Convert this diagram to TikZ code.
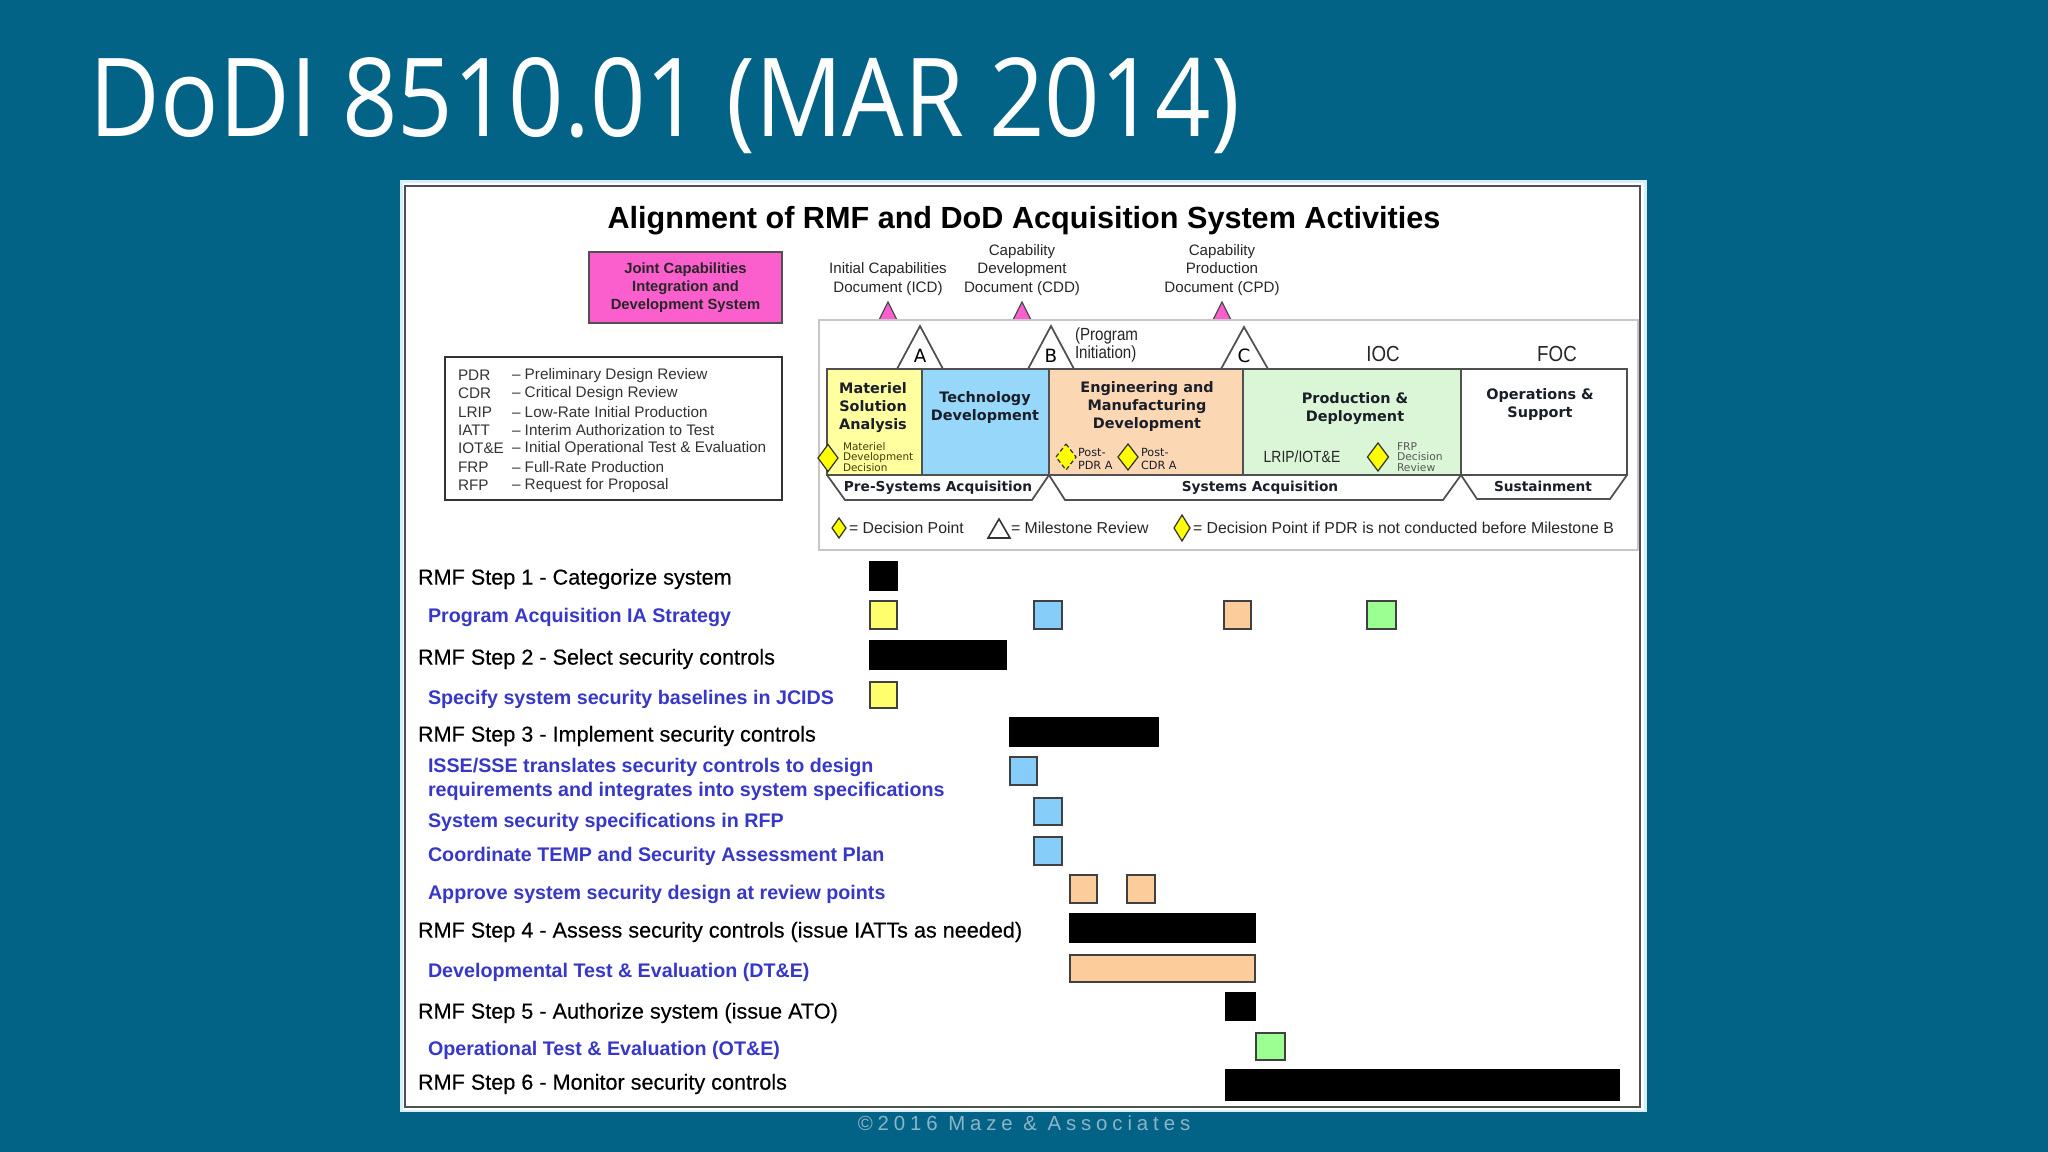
\documentclass[tikz,border=0pt]{standalone}
\usepackage{fontspec}
\setmainfont{Liberation Sans}
\newfontfamily\titlefont{Open Sans}
\newfontfamily\verd{DejaVu Sans}
\newfontfamily\narrowf[FakeStretch=0.86]{Liberation Sans}
\newfontfamily\medf[FakeBold=0.3]{Liberation Sans}
\newfontfamily\spacedf[LetterSpace=24]{Liberation Sans}
\definecolor{bg}{RGB}{3,99,134}
\definecolor{paneledge}{RGB}{215,240,248}
\definecolor{framec}{RGB}{80,80,80}
\definecolor{pinkc}{RGB}{250,95,205}
\definecolor{msac}{RGB}{255,255,160}
\definecolor{tdc}{RGB}{150,215,250}
\definecolor{emdc}{RGB}{252,215,180}
\definecolor{pdc}{RGB}{218,246,214}
\definecolor{gyel}{RGB}{255,255,110}
\definecolor{gblu}{RGB}{135,205,250}
\definecolor{gpch}{RGB}{252,205,155}
\definecolor{ggrn}{RGB}{155,255,145}
\definecolor{bluetxt}{RGB}{55,55,200}
\definecolor{footc}{RGB}{140,180,200}
\definecolor{diay}{RGB}{255,255,0}
\definecolor{darktxt}{RGB}{25,30,40}
\definecolor{olivetxt}{RGB}{70,60,0}
\newcommand\myfs[2]{\fontsize{#1}{#2}\selectfont}
\newcommand\dmd[5][]{\draw[dia,#1] (#2,#3) +(0,-#5) -- +(#4,0) -- +(0,#5) -- +(-#4,0) -- cycle;}
\begin{document}
\begin{tikzpicture}[x=0.01cm,y=-0.01cm,
  txt/.style={inner sep=0pt, outer sep=0pt},
  phase/.style={draw=framec, line width=0.45pt},
  dia/.style={draw=black!80, line width=0.35pt, fill=diay},
  ph/.style={txt, align=center, text=darktxt, yshift=-0.025cm, font=\verd\bfseries\myfs{4.1}{5}},
  ban/.style={txt, text=darktxt, font=\verd\bfseries\myfs{3.9}{4.5}},
  doc/.style={txt, align=center, text=black!85, yshift=-0.02cm, font=\myfs{4.3}{5.2}},
  leg/.style={txt, anchor=west, text=black!85, font=\myfs{4.5}{5.2}},
  rmf/.style={txt, anchor=west, text=black, yshift=-0.03cm, font=\medf\myfs{6.15}{7}},
  sub/.style={txt, anchor=west, align=left, text=bluetxt, yshift=-0.03cm, font=\bfseries\myfs{5.6}{6.8}},
  abb/.style={txt, anchor=west, text=black!80, yshift=-0.025cm, font=\myfs{4.35}{5}},
  gb/.style={draw=black!75, line width=0.4pt},
  blk/.style={fill=black, draw=black, line width=0.4pt}]
\useasboundingbox (0,0) rectangle (2048,1152);
\fill[bg] (0,0) rectangle (2048,1152);
% title
\node[txt, anchor=base west, text=white, font=\titlefont\fontsize{31}{36}\selectfont] (title) at (90,137) {\scalebox{0.89}[1]{DoDI 8510.01 (MAR 2014)}};
% panel
\fill[paneledge] (400,180) rectangle (1647,1112);
\fill[white] (403,183) rectangle (1644,1110);
\draw[framec, line width=0.45pt] (405,186) rectangle (1640,1107);
% chart title
\node[txt, yshift=-0.04cm, font=\bfseries\myfs{8.7}{10}] (ctitle) at (1024,217) {Alignment of RMF and DoD Acquisition System Activities};
% JCIDS box
\node[draw=framec, line width=0.6pt, fill=pinkc, minimum width=1.93cm, minimum height=0.71cm, inner sep=0pt, align=center, text=black!85, font=\bfseries\myfs{4.2}{5.1}] (jcids) at (685.5,287.5) {Joint Capabilities\\Integration and\\Development System};
% abbreviation box
\draw[black!80, line width=0.6pt] (445,357) rectangle (782,500);
\foreach \ab/\de [count=\i] in {PDR/Preliminary Design Review, CDR/Critical Design Review, LRIP/Low-Rate Initial Production, IATT/Interim Authorization to Test, IOT\&E/Initial Operational Test \& Evaluation, FRP/Full-Rate Production, RFP/Request for Proposal}{
  \node[abb] (ab\i) at (458,354.5+18.33*\i) {\ab};
  \node[abb] (de\i) at (512,354.5+18.33*\i) {-- \de};
}
% document labels
\node[doc] (icd) at (888,277) {Initial Capabilities\\Document (ICD)};
\node[doc] (cdd) at (1022,268) {Capability\\Development\\Document (CDD)};
\node[doc] (cpd) at (1222,268) {Capability\\Production\\Document (CPD)};
\foreach \px in {888,1022,1222}{
  \draw[fill=pinkc, draw=black!70, line width=0.35pt] (\px-9,320) -- (\px,302) -- (\px+9,320) -- cycle;
}
% acquisition frame
\draw[black!22, line width=0.45pt] (819,320) rectangle (1638,550);
% phase boxes
\draw[phase, fill=msac] (827,369) rectangle (922,475);
\draw[phase, fill=tdc] (922,369) rectangle (1049,475);
\draw[phase, fill=emdc] (1049,369) rectangle (1243,475);
\draw[phase, fill=pdc] (1243,369) rectangle (1461,475);
\draw[phase, fill=white] (1461,369) rectangle (1627,475);
% milestones
\draw[phase, fill=white, line width=0.5pt] (897,369) -- (920,326) -- (943,369) -- cycle;
\draw[phase, fill=white, line width=0.5pt] (1028,369) -- (1051,326) -- (1074,369) -- cycle;
\draw[phase, fill=white, line width=0.5pt] (1221,369) -- (1244,327) -- (1268,369) -- cycle;
\node[txt, font=\verd\myfs{5.2}{6}] (msA) at (920,356) {A};
\node[txt, font=\verd\myfs{5.2}{6}] (msB) at (1051,356) {B};
\node[txt, font=\verd\myfs{5.2}{6}] (msC) at (1244,356) {C};
\node[txt, anchor=west, align=left, text=black!85, font=\narrowf\myfs{5}{5.1}] (pinit) at (1075,345) {(Program\\Initiation)};
\node[txt, text=black!85, font=\narrowf\myfs{6.2}{7}] (ioc) at (1383,354) {IOC};
\node[txt, text=black!85, font=\narrowf\myfs{6.2}{7}] (foc) at (1557,354) {FOC};
% phase texts
\node[ph] (msa) at (873,405) {Materiel\\Solution\\Analysis};
\node[ph] (td) at (985,405) {Technology\\Development};
\node[ph] (emd) at (1147,404) {Engineering and\\Manufacturing\\Development};
\node[ph] (pd) at (1355,406) {Production \&\\Deployment};
\node[ph] (os) at (1540,402) {Operations \&\\Support};
% decision points in boxes
\dmd{828}{458}{10}{13.5}
\node[txt, anchor=west, align=left, text=olivetxt, font=\verd\myfs{2.97}{2.9}] (mdd) at (843,457) {Materiel\\Development\\Decision};
\dmd[dashed, dash pattern=on 1.2pt off 0.8pt]{1066}{457}{10}{13}
\node[txt, anchor=west, align=left, text=darktxt, font=\verd\myfs{3.2}{3.5}] (ppdr) at (1078,459) {Post-\\PDR A};
\dmd{1128}{457}{10}{13}
\node[txt, anchor=west, align=left, text=darktxt, font=\verd\myfs{3.2}{3.5}] (pcdr) at (1141,459) {Post-\\CDR A};
\node[txt, text=black!85, font=\narrowf\myfs{4.6}{5}] (lrip) at (1302,457) {LRIP/IOT\&E};
\dmd{1378}{457}{10.5}{14}
\node[txt, anchor=west, align=left, text=black!65, font=\verd\myfs{3.05}{3}] (frp) at (1397,457) {FRP\\Decision\\Review};
% banners
\draw[phase, line width=0.5pt] (827,475) -- (845,500) -- (1032,500) -- (1049,475);
\draw[phase, line width=0.5pt] (1049,475) -- (1065,500) -- (1443,500) -- (1461,475);
\draw[phase, line width=0.5pt] (1461,475) -- (1477,499) -- (1610,499) -- (1627,475);
\node[ban] (pre) at (938,488) {Pre-Systems Acquisition};
\node[ban] (sys) at (1260,488) {Systems Acquisition};
\node[ban] (sus) at (1543,486) {Sustainment};
% legend
\dmd{839}{528}{7}{10}
\node[leg] (l1) at (849,528) {= Decision Point};
\draw[black!80, line width=0.45pt, fill=white] (988,538) -- (999,519) -- (1010,538) -- cycle;
\node[leg] (l2) at (1011,528) {= Milestone Review};
\dmd{1182}{528}{8}{13}
\node[leg] (l3) at (1193,528) {= Decision Point if PDR is not conducted before Milestone B};
% RMF labels
\node[rmf] (r1) at (418,576) {RMF Step 1 - Categorize system};
\node[sub] (b1) at (428,614) {Program Acquisition IA Strategy};
\node[rmf] (r2) at (418,656) {RMF Step 2 - Select security controls};
\node[sub] (b2) at (428,696) {Specify system security baselines in JCIDS};
\node[rmf] (r3) at (418,733) {RMF Step 3 - Implement security controls};
\node[sub] (b3) at (428,776) {ISSE/SSE translates security controls to design\\requirements and integrates into system specifications};
\node[sub] (b4) at (428,819) {System security specifications in RFP};
\node[sub] (b5) at (428,853) {Coordinate TEMP and Security Assessment Plan};
\node[sub] (b6) at (428,891) {Approve system security design at review points};
\node[rmf] (r4) at (418,929) {RMF Step 4 - Assess security controls (issue IATTs as needed)};
\node[sub] (b7) at (428,969) {Developmental Test \& Evaluation (DT\&E)};
\node[rmf] (r5) at (418,1010) {RMF Step 5 - Authorize system (issue ATO)};
\node[sub] (b8) at (428,1047) {Operational Test \& Evaluation (OT\&E)};
\node[rmf] (r6) at (418,1081) {RMF Step 6 - Monitor security controls};
% Gantt bars
\draw[blk] (870,562) rectangle (897,590);
\draw[gb, fill=gyel] (870,601) rectangle (897,629);
\draw[gb, fill=gblu] (1034,601) rectangle (1062,629);
\draw[gb, fill=gpch] (1224,601) rectangle (1251,629);
\draw[gb, fill=ggrn] (1367,601) rectangle (1396,629);
\draw[blk] (870,641) rectangle (1006,669);
\draw[gb, fill=gyel] (870,682) rectangle (897,708);
\draw[blk] (1010,718) rectangle (1158,746);
\draw[gb, fill=gblu] (1010,757) rectangle (1037,785);
\draw[gb, fill=gblu] (1034,798) rectangle (1062,825);
\draw[gb, fill=gblu] (1034,837) rectangle (1062,865);
\draw[gb, fill=gpch] (1070,875) rectangle (1097,903);
\draw[gb, fill=gpch] (1127,875) rectangle (1155,903);
\draw[blk] (1070,914) rectangle (1255,942);
\draw[gb, fill=gpch] (1070,955) rectangle (1255,982);
\draw[blk] (1226,993) rectangle (1255,1020);
\draw[gb, fill=ggrn] (1256,1033) rectangle (1285,1060);
\draw[blk] (1226,1070) rectangle (1619,1100);
% footer
\node[txt, text=footc, font=\spacedf\myfs{5.8}{6.5}] (foot) at (1024,1123) {\textcopyright2016 Maze \& Associates};
\end{tikzpicture}
\end{document}
